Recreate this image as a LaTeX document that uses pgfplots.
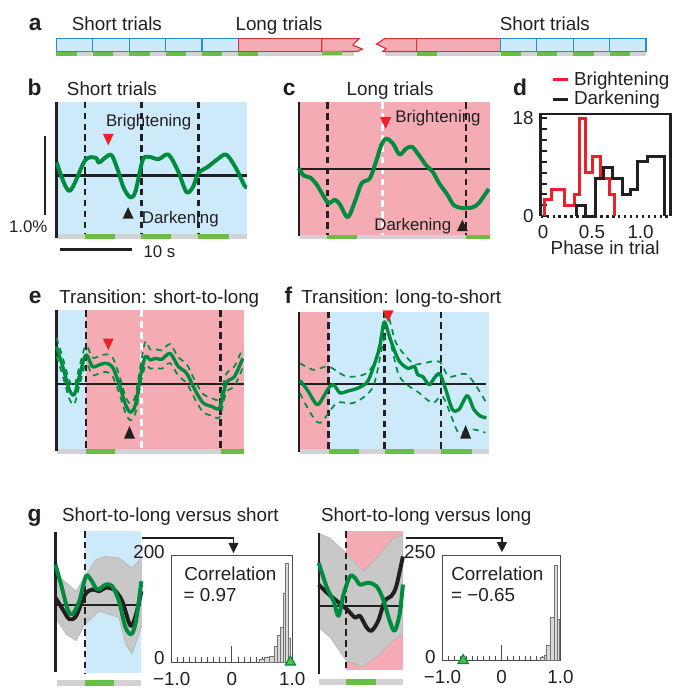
\documentclass[border=0pt]{standalone}
\usepackage{pgfplots}
\pgfplotsset{compat=1.18}
\usepackage{fontspec}
\setmainfont{Liberation Sans}
\definecolor{bluebg}{RGB}{204,234,250}
\definecolor{pinkbg}{RGB}{245,171,180}
\definecolor{boxblue}{RGB}{40,140,215}
\definecolor{boxred}{RGB}{228,45,55}
\definecolor{sgreen}{RGB}{106,189,69}
\definecolor{sgray}{RGB}{210,210,212}
\definecolor{cgreen}{RGB}{0,140,62}
\definecolor{tgreen}{RGB}{90,185,70}
\definecolor{ared}{RGB}{236,32,40}
\definecolor{bund}{RGB}{200,200,200}
\definecolor{txt}{RGB}{35,31,32}
\newcommand{\fm}{\fontsize{9.5}{11}\selectfont}
\newcommand{\fs}{\fontsize{8.5}{10}\selectfont}
\newcommand{\fl}{\fontsize{11.5}{13}\selectfont\bfseries}
\tikzset{
  dashv/.style={line width=1.3pt, dash pattern=on 3.3pt off 2.2pt},
  zl/.style={line width=1.2pt, txt},
  gcurve/.style={line width=2pt, cgreen, line join=round, smooth, tension=0.5},
  gdash/.style={line width=0.85pt, cgreen, dash pattern=on 3pt off 2.5pt, smooth, tension=0.5},
  kcurve/.style={line width=2pt, txt, line join=round, smooth, tension=0.5},
}
\pgfplotsset{pn/.style={anchor=north west, scale only axis, axis lines=none, clip=false, enlargelimits=false}}
\begin{document}
\begin{tikzpicture}
\begin{scope}[x=0.5pt,y=-0.5pt]
\path[use as bounding box] (0,0) rectangle (679,692);
\end{scope}

% ---------------- panel a ----------------
\begin{axis}[pn, at={(28.5pt,-19.5pt)}, width=297.5pt, height=9pt, xmin=0, xmax=129.7, ymin=0, ymax=18]
\fill[sgray] (axis cs:0,0) rectangle (axis cs:65.4,5);
\fill[sgray] (axis cs:72.2,0) rectangle (axis cs:129.7,5);
\fill[sgreen] (axis cs:0,0) rectangle (axis cs:4.5,5);
\fill[sgreen] (axis cs:8,0) rectangle (axis cs:12.5,5);
\fill[sgreen] (axis cs:16,0) rectangle (axis cs:20.5,5);
\fill[sgreen] (axis cs:24,0) rectangle (axis cs:28.5,5);
\fill[sgreen] (axis cs:32,0) rectangle (axis cs:36.5,5);
\fill[sgreen] (axis cs:40,0) rectangle (axis cs:44.4,5);
\fill[sgreen] (axis cs:79.3,0) rectangle (axis cs:83.7,5);
\fill[sgreen] (axis cs:97.7,0) rectangle (axis cs:102.2,5);
\fill[sgreen] (axis cs:105.7,0) rectangle (axis cs:110.2,5);
\fill[sgreen] (axis cs:113.7,0) rectangle (axis cs:118.2,5);
\fill[sgreen] (axis cs:121.7,0) rectangle (axis cs:126.2,5);
\filldraw[fill=bluebg, draw=boxblue, line width=0.6pt] (axis cs:0,5) rectangle (axis cs:8,18);
\filldraw[fill=bluebg, draw=boxblue, line width=0.6pt] (axis cs:8,5) rectangle (axis cs:16,18);
\filldraw[fill=bluebg, draw=boxblue, line width=0.6pt] (axis cs:16,5) rectangle (axis cs:24,18);
\filldraw[fill=bluebg, draw=boxblue, line width=0.6pt] (axis cs:24,5) rectangle (axis cs:32,18);
\filldraw[fill=bluebg, draw=boxblue, line width=0.6pt] (axis cs:32,5) rectangle (axis cs:40,18);
\filldraw[fill=pinkbg, draw=boxred, line width=0.6pt] (axis cs:40,5) rectangle (axis cs:58.4,18);
\filldraw[fill=pinkbg, draw=boxred, line width=0.6pt] (axis cs:58.4,5) -- (axis cs:58.4,18) -- (axis cs:66.6,18) -- (axis cs:65.2,11.5) -- (axis cs:67.3,7.5) -- (axis cs:66.2,5) -- cycle;
\filldraw[fill=pinkbg, draw=boxred, line width=0.6pt] (axis cs:79.3,5) -- (axis cs:79.3,18) -- (axis cs:72.2,18) -- (axis cs:70.4,12.5) -- (axis cs:72.5,8) -- (axis cs:71.8,5) -- cycle;
\filldraw[fill=pinkbg, draw=boxred, line width=0.6pt] (axis cs:79.3,5) rectangle (axis cs:97.7,18);
\filldraw[fill=bluebg, draw=boxblue, line width=0.6pt] (axis cs:97.7,5) rectangle (axis cs:105.7,18);
\filldraw[fill=bluebg, draw=boxblue, line width=0.6pt] (axis cs:105.7,5) rectangle (axis cs:113.7,18);
\filldraw[fill=bluebg, draw=boxblue, line width=0.6pt] (axis cs:113.7,5) rectangle (axis cs:121.7,18);
\filldraw[fill=bluebg, draw=boxblue, line width=0.6pt] (axis cs:121.7,5) rectangle (axis cs:129.7,18);
\fill[sgreen] (axis cs:58.4,1) rectangle (axis cs:62.8,6);
\end{axis}

% ---------------- panel b ----------------
\begin{axis}[pn, at={(28.5pt,-51.35pt)}, width=96pt, height=66.65pt, xmin=0, xmax=26.78, ymin=-0.734, ymax=0.9325]
\fill[bluebg] (axis cs:0,-0.734) rectangle (axis cs:26.78,0.9325);
\fill[sgray] (axis cs:0.1,-0.734) rectangle (axis cs:26.78,-0.797);
\fill[sgreen] (axis cs:4,-0.734) rectangle (axis cs:8.2,-0.797);
\fill[sgreen] (axis cs:11.95,-0.734) rectangle (axis cs:16.15,-0.797);
\fill[sgreen] (axis cs:19.99,-0.734) rectangle (axis cs:24.35,-0.797);
\draw[dashv, txt] (axis cs:4,0.9325) -- (axis cs:4,-0.734);
\draw[dashv, txt] (axis cs:11.95,0.9325) -- (axis cs:11.95,-0.734);
\draw[dashv, txt] (axis cs:19.99,0.9325) -- (axis cs:19.99,-0.734);
\draw[zl] (axis cs:0,0) -- (axis cs:26.78,0);
\draw[zl] (axis cs:0,0.9325) -- (axis cs:0,-0.784);
\addplot[gcurve] coordinates {(0.04,0.166)(1.81,-0.193)(4.04,0.195)(5.54,0.225)(6.00,0.166)(7.63,0.266)(8.55,0.091)(9.48,-0.159)(10.42,-0.275)(11.12,-0.200)(12.13,0.195)(12.97,0.238)(14.37,0.208)(15.76,0.266)(17.15,0.050)(18.31,-0.209)(19.25,-0.138)(19.94,0.029)(21.34,0.113)(22.50,0.195)(23.89,0.266)(25.29,0.091)(26.46,-0.125)(26.78,-0.146)};
\end{axis}

% ---------------- panel c ----------------
\begin{axis}[pn, at={(150.85pt,-51.65pt)}, width=96.65pt, height=66.7pt, xmin=0, xmax=26.96, ymin=-0.825, ymax=0.8425]
\fill[pinkbg] (axis cs:0,-0.825) rectangle (axis cs:26.96,0.8425);
\fill[sgray] (axis cs:0.1,-0.825) rectangle (axis cs:26.96,-0.885);
\fill[sgreen] (axis cs:4,-0.825) rectangle (axis cs:8.2,-0.885);
\fill[sgreen] (axis cs:23.5,-0.825) rectangle (axis cs:26.96,-0.885);
\draw[dashv, txt] (axis cs:4,0.8425) -- (axis cs:4,-0.825);
\draw[dashv, white] (axis cs:11.8,0.8425) -- (axis cs:11.8,-0.825);
\draw[dashv, txt] (axis cs:23.5,0.8425) -- (axis cs:23.5,-0.825);
\draw[zl] (axis cs:0,0) -- (axis cs:26.96,0);
\draw[zl] (axis cs:0,0.8425) -- (axis cs:0,-0.841);
\addplot[gcurve] coordinates {(0,0.009)(0.70,-0.083)(1.62,-0.108)(2.55,-0.200)(3.49,-0.345)(4.18,-0.429)(5.10,-0.388)(5.80,-0.450)(6.88,-0.608)(7.89,-0.408)(8.83,-0.179)(9.99,-0.116)(10.92,0.113)(11.62,0.309)(12.32,0.384)(13.25,0.321)(14.17,0.184)(15.10,0.259)(15.94,0.280)(16.96,0.168)(17.89,0.050)(18.83,-0.033)(19.75,-0.179)(20.92,-0.325)(21.84,-0.458)(23.01,-0.491)(24.41,-0.483)(25.33,-0.429)(26.72,-0.250)};
\end{axis}

% ---------------- panel d ----------------
\begin{axis}[anchor=north west, scale only axis, at={(272.85pt,-57.5pt)}, width=65.5pt, height=51.65pt,
  xmin=-0.026, xmax=1.306, ymin=0, ymax=18.78, clip=false, axis line style={draw=none},
  xtick={0,0.5,1}, xticklabels={0,0.5,1.0}, ytick={0,18}, yticklabels={0,18},
  minor ytick={2,4,6,8,10,12,14,16}, ytick pos=left, xtick style={draw=none},
  tick align=inside, ytick style={txt, line width=1pt}, minor tick length=3pt, major tick length=3pt,
  tick label style={font=\fm, text=txt}, xticklabel style={yshift=-1pt}]
\draw[line width=1.3pt, txt] (axis cs:-0.026,0) -- (axis cs:-0.026,18.78) -- (axis cs:1.306,18.78) -- (axis cs:1.306,0);
\draw[line width=1.3pt, txt, dash pattern=on 1.3pt off 1.7pt] (axis cs:-0.026,0) -- (axis cs:1.306,0);
\addplot[const plot, ared, line width=1.5pt] coordinates {(0.010,0)(0.010,3)(0.085,5)(0.220,2)(0.322,4)(0.373,18)(0.431,8)(0.508,11)(0.593,7)(0.678,4)(0.736,0)};
\addplot[const plot, txt, line width=1.5pt] coordinates {(0.339,0)(0.339,2)(0.431,0)(0.542,7)(0.620,9)(0.712,7)(0.814,4)(0.892,5)(0.973,10)(1.075,11)(1.244,0)};
\end{axis}

% ---------------- panel e ----------------
\begin{axis}[pn, at={(28.5pt,-156.65pt)}, width=94.5pt, height=69.85pt, xmin=0, xmax=26.36, ymin=-0.821, ymax=0.925]
\fill[bluebg] (axis cs:0,-0.821) rectangle (axis cs:4.14,0.925);
\fill[pinkbg] (axis cs:4.14,-0.821) rectangle (axis cs:26.36,0.925);
\fill[sgray] (axis cs:0.14,-0.821) rectangle (axis cs:26.36,-0.8875);
\fill[sgreen] (axis cs:4.14,-0.821) rectangle (axis cs:8.2,-0.8875);
\fill[sgreen] (axis cs:23.11,-0.821) rectangle (axis cs:26.46,-0.8875);
\draw[dashv, txt] (axis cs:4.14,0.925) -- (axis cs:4.14,-0.821);
\draw[dashv, white] (axis cs:11.95,0.925) -- (axis cs:11.95,-0.821);
\draw[dashv, txt] (axis cs:23.11,0.925) -- (axis cs:23.11,-0.821);
\draw[zl] (axis cs:0,0) -- (axis cs:26.36,0);
\draw[zl] (axis cs:0,0.925) -- (axis cs:0,-0.846);
\addplot[gdash] coordinates {(0,0.58)(0.88,0.33)(1.81,0.04)(2.51,-0.03)(3.21,0.21)(4.14,0.48)(5.06,0.33)(6.00,0.35)(6.93,0.37)(7.85,0.34)(8.79,0.12)(9.72,-0.16)(10.42,-0.25)(11.12,-0.15)(11.81,0.22)(12.51,0.53)(13.21,0.43)(13.91,0.44)(14.83,0.42)(16.00,0.50)(17.15,0.33)(18.31,0.25)(19.48,0.04)(20.64,-0.13)(21.80,-0.18)(22.97,-0.19)(23.89,0.12)(25.06,0.22)(26.22,0.45)};
\addplot[gdash] coordinates {(0,0.35)(0.88,0.10)(1.81,-0.19)(2.51,-0.26)(3.21,-0.03)(4.14,0.25)(5.06,0.11)(6.00,0.13)(6.93,0.15)(7.85,0.10)(8.79,-0.11)(9.72,-0.37)(10.42,-0.46)(11.12,-0.37)(11.81,-0.03)(12.51,0.23)(13.21,0.19)(13.91,0.20)(14.83,0.19)(16.00,0.26)(17.15,0.10)(18.31,0.01)(19.48,-0.19)(20.64,-0.36)(21.80,-0.40)(22.97,-0.42)(23.89,-0.11)(25.06,-0.03)(26.22,0.20)};
\addplot[gcurve, line width=1.7pt] coordinates {(0,0.466)(0.88,0.216)(1.81,-0.075)(2.51,-0.138)(3.21,0.091)(4.14,0.363)(5.06,0.216)(6.00,0.238)(6.93,0.258)(7.85,0.216)(8.79,0.008)(9.72,-0.263)(10.42,-0.359)(11.12,-0.263)(11.81,0.091)(12.51,0.341)(13.21,0.300)(13.91,0.320)(14.83,0.308)(16.00,0.383)(17.15,0.216)(18.31,0.133)(19.48,-0.075)(20.64,-0.243)(21.80,-0.284)(22.97,-0.305)(23.89,0.008)(25.06,0.091)(26.22,0.320)};
\end{axis}

% ---------------- panel f ----------------
\begin{axis}[pn, at={(150.85pt,-157.25pt)}, width=96pt, height=69.4pt, xmin=0, xmax=26.78, ymin=-0.825, ymax=0.91]
\fill[pinkbg] (axis cs:0,-0.825) rectangle (axis cs:4.18,0.91);
\fill[bluebg] (axis cs:4.18,-0.825) rectangle (axis cs:26.78,0.91);
\fill[sgray] (axis cs:0.14,-0.825) rectangle (axis cs:26.78,-0.8875);
\fill[sgreen] (axis cs:4.18,-0.825) rectangle (axis cs:8.41,-0.8875);
\fill[sgreen] (axis cs:12.08,-0.825) rectangle (axis cs:16.26,-0.8875);
\fill[sgreen] (axis cs:20.03,-0.825) rectangle (axis cs:24.35,-0.8875);
\draw[dashv, txt] (axis cs:4.18,0.91) -- (axis cs:4.18,-0.825);
\draw[dashv, txt] (axis cs:12.08,0.91) -- (axis cs:12.08,-0.825);
\draw[dashv, txt] (axis cs:20.03,0.91) -- (axis cs:20.03,-0.825);
\draw[zl] (axis cs:0,0) -- (axis cs:26.4,0);
\draw[zl] (axis cs:0,0.91) -- (axis cs:0,-0.859);
\addplot[gdash] coordinates {(0.14,0.258)(2.09,0.175)(4.18,0.216)(6.74,0.091)(9.53,0.133)(10.92,0.341)(12.32,0.883)(13.71,0.508)(16.04,0.258)(17.43,0.258)(19.75,0.279)(21.14,0.091)(23.71,0.113)(26.26,-0.221)};
\addplot[gdash] coordinates {(0.14,-0.118)(1.62,-0.368)(3.01,-0.493)(5.34,-0.243)(7.67,-0.243)(10.46,-0.034)(12.32,0.633)(14.17,0.091)(16.96,-0.118)(18.83,-0.243)(20.22,-0.159)(21.62,-0.450)(22.54,-0.618)(24.41,-0.575)(26.26,-0.618)};
\addplot[gcurve, line width=1.7pt] coordinates {(0.14,0.041)(1.16,-0.075)(2.55,-0.263)(3.49,-0.159)(4.18,-0.055)(4.88,-0.013)(5.80,-0.118)(6.74,-0.096)(7.67,-0.075)(8.83,-0.034)(9.76,0.041)(10.68,0.258)(11.38,0.466)(11.99,0.779)(12.55,0.654)(13.25,0.466)(14.17,0.279)(15.34,0.195)(16.26,0.216)(16.74,0.113)(17.43,0.091)(18.35,-0.013)(19.05,0.070)(19.85,0.125)(20.68,-0.075)(21.62,-0.325)(22.54,-0.325)(23.71,-0.150)(24.63,-0.325)(25.56,-0.409)(26.40,-0.430)};
\end{axis}

% ---------------- panel g left ----------------
\begin{axis}[pn, at={(28pt,-268pt)}, width=43.35pt, height=71.65pt, xmin=0, xmax=12.09, ymin=-0.8575, ymax=0.934]
\fill[bluebg] (axis cs:4.18,-0.8575) rectangle (axis cs:12.09,0.934);
\fill[sgray] (axis cs:0.28,-0.941) rectangle (axis cs:12.09,-1.016);
\fill[sgreen] (axis cs:4.18,-0.941) rectangle (axis cs:8.23,-1.016);
\addplot[fill=bund, draw=black!30, line width=0.3pt] coordinates {(0,0.384)(1.49,0.284)(2.89,0.175)(4.18,0.363)(5.68,0.571)(7.07,0.613)(8.93,0.593)(10.78,0.468)(12.09,0.593)(12.09,-0.283)(10.78,-0.616)(9.86,-0.491)(8.93,-0.158)(6.14,-0.075)(4.18,-0.241)(2.89,-0.45)(1.49,-0.366)(0,-0.158)} -- cycle;
\draw[dashv, txt] (axis cs:4.18,0.934) -- (axis cs:4.18,-0.8575);
\draw[zl] (axis cs:0,0) -- (axis cs:12.09,0);
\draw[zl] (axis cs:0,0.9175) -- (axis cs:0,-0.845);
\addplot[kcurve] coordinates {(0,0.093)(1.02,-0.054)(1.95,-0.179)(2.89,-0.138)(4.18,0.134)(5.20,0.196)(6.14,0.175)(7.07,0.218)(8.23,0.196)(9.39,0.050)(10.56,-0.263)(11.34,-0.116)(12.09,0.175)};
\addplot[gcurve] coordinates {(0,0.509)(0.79,0.259)(1.72,-0.054)(2.41,-0.116)(3.35,0.050)(4.28,0.363)(4.98,0.321)(5.90,0.196)(7.07,0.259)(7.99,0.238)(8.93,0.050)(9.86,-0.283)(10.70,-0.366)(11.34,-0.200)(12.09,0.300)};
\end{axis}

% ---------------- panel g right ----------------
\begin{axis}[pn, at={(160.85pt,-268pt)}, width=42.5pt, height=70.35pt, xmin=0, xmax=11.85, ymin=-0.8125, ymax=0.946]
\fill[pinkbg] (axis cs:3.85,-0.8125) rectangle (axis cs:11.85,0.946);
\fill[sgray] (axis cs:0,-0.916) rectangle (axis cs:11.85,-0.991);
\fill[sgreen] (axis cs:3.85,-0.916) rectangle (axis cs:8.03,-0.991);
\addplot[fill=bund, draw=black!30, line width=0.3pt] coordinates {(0,0.918)(1.62,0.855)(3.85,0.668)(6.28,0.438)(8.59,0.646)(10.46,0.855)(11.85,0.896)(11.85,-0.354)(10.46,-0.438)(8.59,-0.604)(6.28,-0.77)(3.85,-0.688)(1.62,-0.395)(0,-0.27)} -- cycle;
\draw[dashv, txt] (axis cs:3.85,0.946) -- (axis cs:3.85,-0.8125);
\draw[zl] (axis cs:0,0) -- (axis cs:11.85,0);
\draw[zl] (axis cs:0,0.9175) -- (axis cs:0,-0.854);
\addplot[kcurve] coordinates {(0,0.271)(1.16,0.168)(2.55,0.063)(3.95,-0.041)(5.10,-0.145)(5.80,-0.125)(6.74,-0.270)(7.43,-0.313)(8.37,-0.188)(9.29,0.063)(10.22,0.125)(10.92,0.250)(11.85,0.625)};
\addplot[gcurve] coordinates {(0,0.543)(1.16,0.230)(2.09,0.063)(2.79,-0.125)(3.49,0.146)(4.41,0.375)(5.10,0.355)(5.80,0.271)(6.97,0.293)(8.13,0.250)(9.07,0.084)(9.99,-0.188)(10.68,-0.313)(11.38,-0.104)(11.85,0.271)};
\end{axis}

% ---------------- histograms g ----------------
\begin{axis}[anchor=north west, scale only axis, at={(86.65pt,-280.5pt)}, width=60.85pt, height=53.65pt,
  xmin=-1, xmax=1, ymin=0, ymax=200, clip=false, axis line style={black!70, line width=0.5pt},
  xtick={-1,0,1}, xticklabels={−1.0,0,1.0}, ytick={0,200}, yticklabels={0,200},
  minor x tick num=9, tick align=inside, xtick pos=left, ytick style={draw=none},
  xtick style={black!70, line width=0.5pt}, major tick length=2.5pt, minor tick length=2.5pt,
  tick label style={font=\fm, text=txt}, xticklabel style={yshift=-1.5pt}, yticklabel style={yshift=2pt}]
\draw[black!70, line width=0.5pt] (axis cs:0,0) -- (axis cs:0,30);
\addplot[ybar interval, fill=black!15, draw=black!55, line width=0.4pt] coordinates {(0.45,5)(0.53,8)(0.62,10)(0.70,30)(0.75,50)(0.80,65)(0.85,130)(0.89,186)(0.93,45)(0.97,0)};
\addplot[only marks, mark=triangle*, mark size=3pt, mark options={fill=tgreen, draw=cgreen, line width=0.6pt}] coordinates {(0.97,0)};
\end{axis}

\begin{axis}[anchor=north west, scale only axis, at={(223.35pt,-280.5pt)}, width=59.5pt, height=52.85pt,
  xmin=-1, xmax=1, ymin=0, ymax=250, clip=false, axis line style={black!70, line width=0.5pt},
  xtick={-1,0,1}, xticklabels={−1.0,0,1.0}, ytick={0,250}, yticklabels={0,250},
  minor x tick num=9, tick align=inside, xtick pos=left, ytick style={draw=none},
  xtick style={black!70, line width=0.5pt}, major tick length=2.5pt, minor tick length=2.5pt,
  tick label style={font=\fm, text=txt}, xticklabel style={yshift=-1.5pt}, yticklabel style={yshift=2pt}]
\draw[black!70, line width=0.5pt] (axis cs:0,0) -- (axis cs:0,38);
\addplot[ybar interval, fill=black!15, draw=black!55, line width=0.4pt] coordinates {(0.66,8)(0.72,12)(0.77,36)(0.83,102)(0.89,228)(0.94,98)(0.99,0)};
\addplot[only marks, mark=triangle*, mark size=3pt, mark options={fill=tgreen, draw=cgreen, line width=0.6pt}] coordinates {(-0.65,0)};
\end{axis}

% ---------------- annotations ----------------
\begin{scope}[x=0.5pt,y=-0.5pt, every node/.style={text=txt, inner sep=0pt}]
% panel letters
\node[font=\fl, anchor=base] at (35.5,30.3) {a};
\node[font=\fl, anchor=base] at (35,96) {b};
\node[font=\fl, anchor=base] at (292,96) {c};
\node[font=\fl, anchor=base] at (525,96.7) {d};
\node[font=\fl, anchor=base] at (35.5,306.7) {e};
\node[font=\fl, anchor=base] at (291,306) {f};
\node[font=\fl, anchor=base] at (35,526) {g};
% titles
\node[font=\fm, anchor=base] at (118,30.3) {Short trials};
\node[font=\fm, anchor=base] at (281.6,30.3) {Long trials};
\node[font=\fm, anchor=base] at (550,30.3) {Short trials};
\node[font=\fm, anchor=base] at (113,96) {Short trials};
\node[font=\fm, anchor=base] at (393.7,96) {Long trials};
\node[font=\fm, anchor=base] at (160.8,306.7) {Transition: short-to-long};
\node[font=\fm, anchor=base] at (405,306) {Transition: long-to-short};
\node[font=\fm, anchor=base] at (172,526) {Short-to-long versus short};
\node[font=\fm, anchor=base] at (430.3,526) {Short-to-long versus long};
% b annotations
\node[font=\fs, anchor=base] at (150,127.5) {Brightening};
\node[font=\fs, anchor=base] at (182,226) {Darkening};
\fill[ared] (103.8,135) -- (114.8,135) -- (109.3,146.7) -- cycle;
\fill[txt] (123.8,220.7) -- (134.8,220.7) -- (129.3,209) -- cycle;
% scale bars
\draw[line width=1.2pt, txt] (45.7,137) -- (45.7,217);
\draw[line width=1.2pt, txt] (61,252) -- (133,252);
\node[font=\fs, anchor=base] at (28.5,234.3) {1.0\%};
\node[font=\fs, anchor=base] at (161,260) {10 s};
% c annotations
\node[font=\fs, anchor=base] at (442,123.3) {Brightening};
\node[font=\fs, anchor=base] at (416.7,232.7) {Darkening};
\fill[ared] (383.8,118.3) -- (394.8,118.3) -- (389.3,130) -- cycle;
\fill[txt] (461.2,233.3) -- (472.2,233.3) -- (466.7,221.7) -- cycle;
% d legend and label
\draw[ared, line width=1.5pt] (558,80) -- (573,80);
\draw[txt, line width=1.5pt] (558,100) -- (573,100);
\node[font=\fm, anchor=base west] at (579,86) {Brightening};
\node[font=\fm, anchor=base west] at (579,105.5) {Darkening};
\node[font=\fm, anchor=base] at (610.8,256.7) {Phase in trial};
% e, f arrows
\fill[ared] (103.8,341.7) -- (114.8,341.7) -- (109.3,353.3) -- cycle;
\fill[txt] (125.2,442.7) -- (136.2,442.7) -- (130.7,430) -- cycle;
\fill[ared] (386.2,313.3) -- (397.2,313.3) -- (391.7,325) -- cycle;
\fill[txt] (464.5,442.7) -- (475.5,442.7) -- (470,429) -- cycle;
% g arrows and texts
\draw[line width=0.85pt, txt] (143.3,543.3) -- (235.7,543.3) -- (235.7,549);
\fill[txt] (230.5,548) -- (240.9,548) -- (235.7,558.3) -- cycle;
\draw[line width=0.85pt, txt] (410,542.7) -- (506.7,542.7) -- (506.7,548.5);
\fill[txt] (501.5,547.3) -- (511.9,547.3) -- (506.7,557.3) -- cycle;
\node[font=\fm, anchor=base] at (232.5,586) {Correlation};
\node[font=\fm, anchor=base west] at (185,606.7) {= 0.97};
\node[font=\fm, anchor=base] at (502,586) {Correlation};
\node[font=\fm, anchor=base west] at (455,606.7) {= −0.65};
\end{scope}
\end{tikzpicture}
\end{document}
